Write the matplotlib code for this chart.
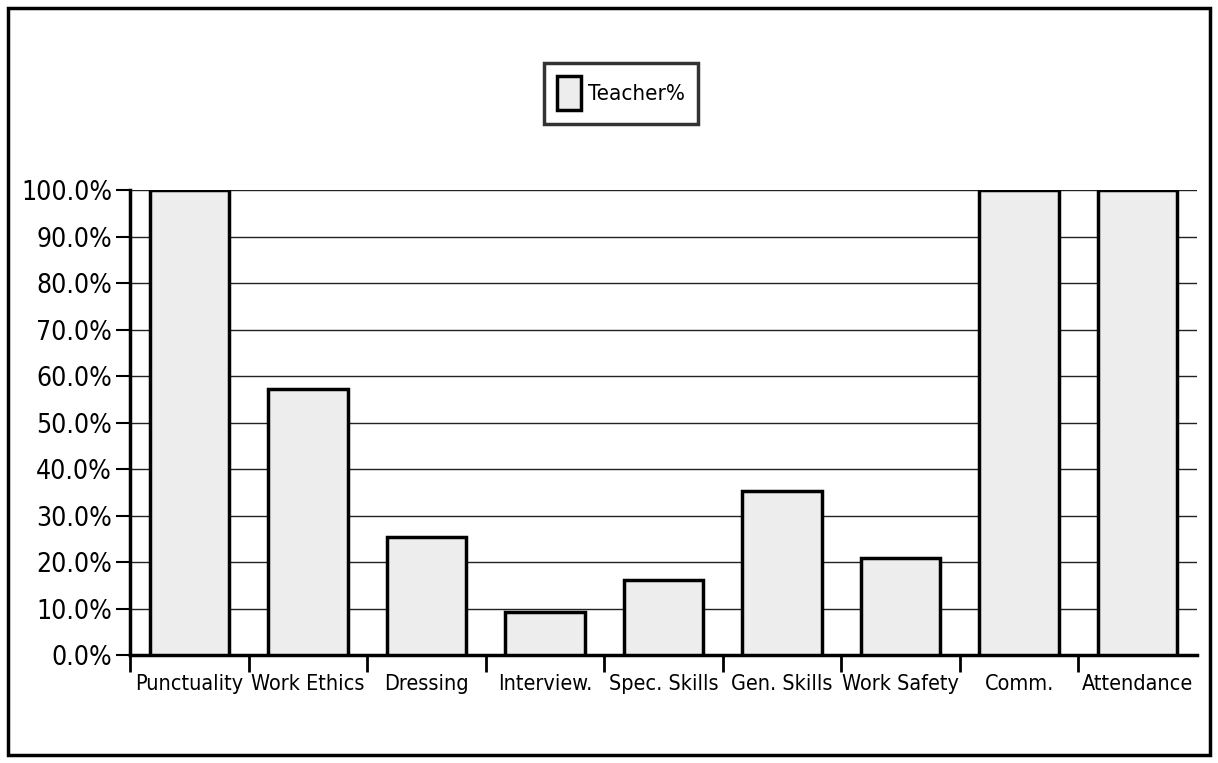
import matplotlib.pyplot as plt
import numpy as np
from matplotlib.patches import Rectangle
from matplotlib.ticker import FuncFormatter, FixedLocator

categories = ['Punctuality', 'Work Ethics', 'Dressing', 'Interview.', 'Spec. Skills',
              'Gen. Skills', 'Work Safety', 'Comm.', 'Attendance']
teacher_pct = [100.0, 57.3, 25.3, 9.2, 16.1, 35.3, 20.9, 100.0, 100.0]

plt.rcParams['font.family'] = ['DejaVu Sans']
plt.rcParams['font.stretch'] = 'condensed'

fig = plt.figure(figsize=(12.18, 7.63), dpi=100)
fig.patches.append(Rectangle((8 / 1218, 8 / 763), 1202 / 1218, 747 / 763,
                             transform=fig.transFigure, fill=False,
                             edgecolor='black', linewidth=2.5))

ax = fig.add_axes([0.1067, 0.1415, 0.876, 0.6094])
x = np.arange(len(categories))
bars = ax.bar(x, teacher_pct, width=0.67, facecolor='#ededed', edgecolor='black',
              linewidth=2.5, label='Teacher%', zorder=3)

ax.set_xlim(-0.5, len(categories) - 0.5)
ax.set_ylim(0, 100)
ax.set_yticks(np.arange(0, 101, 10))
ax.yaxis.set_major_formatter(FuncFormatter(lambda v, p: f'{v:.1f}%'))
ax.yaxis.grid(True, color='#222222', linewidth=1.0, zorder=0)
ax.set_axisbelow(True)

ax.set_xticks(x)
ax.set_xticklabels(categories)
ax.xaxis.set_minor_locator(FixedLocator(np.arange(-0.5, len(categories) - 1, 1.0)))
ax.tick_params(axis='x', which='major', length=0, labelsize=15.5, pad=14)
ax.tick_params(axis='x', which='minor', length=12, width=2, direction='out')
ax.tick_params(axis='y', length=10, width=1.5, direction='out', labelsize=19, pad=3)

for s in ['top', 'right']:
    ax.spines[s].set_visible(False)
for s in ['left', 'bottom']:
    ax.spines[s].set_linewidth(2.5)

leg = fig.legend(loc='center', bbox_to_anchor=(621 / 1218, 1 - 93 / 763),
                 fontsize=16, frameon=True, fancybox=False, edgecolor='black',
                 handlelength=1.1, handleheight=2.0, borderpad=0.6, handletextpad=0.3)
leg.get_frame().set_linewidth(2.5)

fig.savefig('out.png', dpi=100)
